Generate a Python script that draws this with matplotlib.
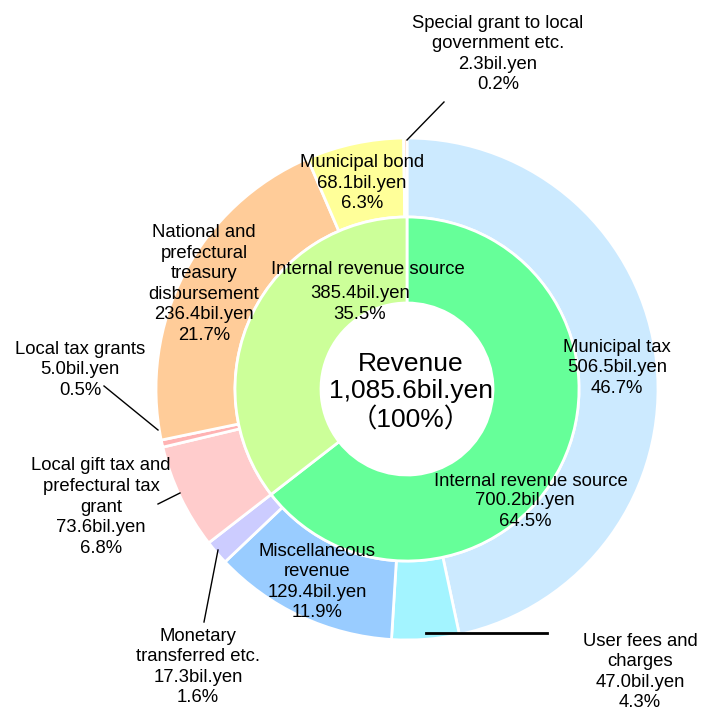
import matplotlib.pyplot as plt

plt.rcParams['font.family'] = ['Liberation Sans', 'Noto Sans CJK JP', 'DejaVu Sans']

# outer ring, clockwise from the top
outer_names = ["Municipal tax", "User fees and\ncharges", "Miscellaneous\nrevenue",
               "Monetary\ntransferred etc.", "Local gift tax and\nprefectural tax\ngrant",
               "Local tax grants", "National and\nprefectural\ntreasury\ndisbursement",
               "Municipal bond", "Special grant to local\ngovernment etc."]
outer_values = [506.5, 47.0, 129.4, 17.3, 73.6, 5.0, 236.4, 68.1, 2.3]
outer_pct = ["46.7%", "4.3%", "11.9%", "1.6%", "6.8%", "0.5%", "21.7%", "6.3%", "0.2%"]
outer_colors = ["#cceaff", "#a3f4ff", "#99ccff", "#ccccff", "#ffcccc",
                "#ffb3b3", "#ffcc99", "#ffff99", "#ffc8a0"]

# inner ring
inner_names = ["Internal revenue source", "Internal revenue source"]
inner_values = [700.2, 385.4]
inner_pct = ["64.5%", "35.5%"]
inner_colors = ["#66ff99", "#ccff99"]

total = 1085.6

fig = plt.figure(figsize=(7.02, 7.13), dpi=100)
ax = fig.add_axes([0, 0, 1, 1])

cx, cy = 407, 389
R_out, R_mid, R_in = 251, 172, 86

ax.pie(outer_values, colors=outer_colors, radius=R_out, center=(cx, cy),
       startangle=-90, counterclock=True, frame=True,
       wedgeprops=dict(width=R_out - R_mid, edgecolor='white', linewidth=2))
ax.pie(inner_values, colors=inner_colors, radius=R_mid, center=(cx, cy),
       startangle=-90, counterclock=True, frame=True,
       wedgeprops=dict(width=R_mid - R_in, edgecolor='white', linewidth=2))
# pixel coords, y down
ax.set_xlim(0, 702)
ax.set_ylim(713, 0)
ax.set_aspect('equal')
ax.axis('off')

fs = 13.3
ls = 1.27


def label(x, y, i):
    s = outer_names[i] + "\n" + "%.1fbil.yen" % outer_values[i] + "\n" + outer_pct[i]
    ax.text(x, y, s, ha='center', va='center', fontsize=fs, linespacing=ls)


label(498, 54, 8)
label(362, 183, 7)
label(204, 284, 6)
label(80, 370, 5)
label(101, 507, 4)
label(317, 582, 2)
label(198, 667, 3)
label(617, 368, 0)
label(640, 672, 1)

# inner ring labels
ax.text(368, 270, inner_names[1], ha='center', va='center', fontsize=fs)
ax.text(360, 304, "%.1fbil.yen\n%s" % (inner_values[1], inner_pct[1]),
        ha='center', va='center', fontsize=fs, linespacing=ls)
ax.text(531, 482, inner_names[0], ha='center', va='center', fontsize=fs)
ax.text(525, 511, "%.1fbil.yen\n%s" % (inner_values[0], inner_pct[0]),
        ha='center', va='center', fontsize=fs, linespacing=ls)

# centre
ax.text(411, 392, "Revenue\n{:,.1f}bil.yen\n（100%）".format(total),
        ha='center', va='center', fontsize=19, linespacing=1.2)

# leader lines
ax.plot([407, 444], [140, 102], color='black', lw=1)
ax.plot([104, 158], [386, 430], color='black', lw=1)
ax.plot([158, 180], [504, 493], color='black', lw=1)
ax.plot([204, 218], [622, 550], color='black', lw=1)
ax.plot([426, 547], [633, 633], color='black', lw=2)

fig.savefig("out.png", dpi=100)
